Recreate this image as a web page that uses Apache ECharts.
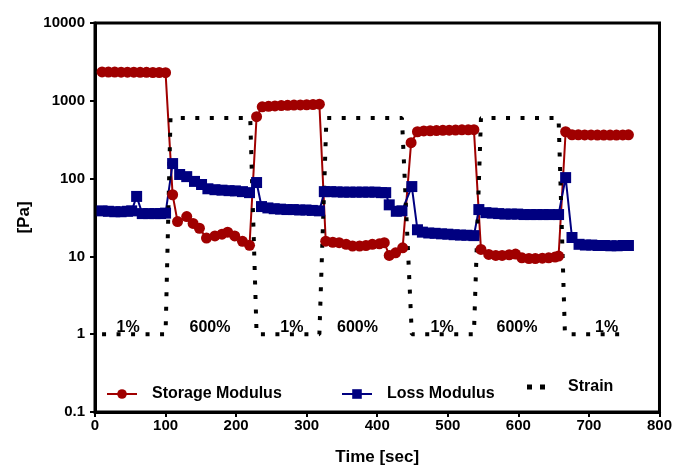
<!DOCTYPE html>
<html>
<head>
<meta charset="utf-8">
<script src="https://cdn.jsdelivr.net/npm/echarts@6/dist/echarts.min.js"></script>
<style>
  html, body { margin: 0; padding: 0; background: #fff; }
  #chart { width: 675px; height: 471px; }
</style>
</head>
<body>
<div id="chart"></div>
<script>
// Storage modulus G' [Pa] vs time [sec]
const storageTime = [10, 19, 28, 37, 46, 55, 64, 73, 82, 91, 100,
  110, 117, 130, 139, 148, 158, 170, 180, 188, 198, 209, 219,
  229, 237, 246, 255, 264, 273, 282, 291, 300, 309, 318,
  327, 337, 346, 356, 365, 375, 384, 393, 403, 410, 417, 426, 436,
  448, 457, 466, 475, 484, 493, 502, 511, 520, 529, 537,
  547, 558, 568, 577, 587, 596, 605, 615, 624, 634, 643, 652, 657,
  667, 676, 685, 694, 703, 712, 721, 730, 739, 748, 756];
const storageValue = [2350, 2340, 2340, 2330, 2330, 2330, 2320, 2320, 2310, 2310, 2300,
  62, 28, 32.5, 26.5, 23, 17.2, 18.3, 19.3, 20.5, 18.3, 15.6, 13.9,
  624, 838, 850, 860, 868, 875, 880, 885, 890, 895, 905,
  15.7, 15.2, 15, 14.3, 13.6, 13.6, 13.8, 14.3, 14.5, 15, 10.3, 11.1, 12.9,
  290, 400, 410, 412, 415, 417, 419, 421, 423, 424, 426,
  12.3, 10.6, 10.3, 10.3, 10.5, 10.7, 9.6, 9.4, 9.4, 9.5, 9.6, 9.8, 10.1,
  400, 366, 365, 364, 364, 363, 363, 363, 363, 364, 365];

// Loss modulus G'' [Pa] vs time [sec]
const lossTime = [10, 19, 28, 37, 46, 52, 59, 67, 76, 85, 93, 100,
  110, 120, 130, 141, 151, 160, 170, 180, 190, 199, 209, 219,
  229, 236, 245, 254, 263, 272, 281, 290, 299, 308, 318,
  325, 334, 343, 352, 361, 370, 379, 388, 397, 406, 412, 417, 427, 435,
  449, 457, 464, 473, 482, 491, 500, 509, 518, 527, 537,
  544, 554, 563, 572, 581, 590, 599, 608, 617, 626, 635, 644, 657,
  667, 676, 686, 695, 704, 713, 722, 731, 740, 749, 756];
const lossValue = [38.5, 38, 37.5, 37.5, 38, 38.5, 59, 35.5, 35.5, 35.5, 35.5, 36,
  156, 113, 106, 92, 84, 74, 72, 71, 70, 69.5, 68, 66,
  89, 43.7, 42, 41, 40.5, 40, 40, 39.5, 39.5, 39, 38.5,
  68, 68, 67.5, 67, 67, 67, 67, 67, 67, 66, 66, 46, 38, 38.5,
  79, 22, 20.5, 20, 19.8, 19.5, 19.3, 19, 18.8, 18.7, 18.5,
  40, 36.5, 36, 35.5, 35, 35, 35, 34.5, 34.5, 34.5, 34.5, 34.5, 34.5,
  103, 17.5, 14.3, 14, 14, 13.8, 13.8, 13.7, 13.7, 13.8, 13.8];

// Applied strain [%]
const strainTime = [10, 100, 107, 220, 229, 318, 328, 435, 449, 537, 547, 657, 666, 753];
const strainValue = [1, 1, 600, 600, 1, 1, 600, 600, 1, 1, 600, 600, 1, 1];

// Strain-level annotations
const annoText = ['1%', '600%', '1%', '600%', '1%', '600%', '1%'];
const annoTime = [47, 163, 279, 372, 492, 598, 725];
const annoLevel = 1.2;

const yTicks = [0.1, 1, 10, 100, 1000, 10000];

const zip = (a, b) => a.map((v, i) => [v, b[i]]);

const FONT = '"Liberation Sans", Arial, sans-serif';
const RED = '#a00000';
const BLUE = '#000080';

const chart = echarts.init(document.getElementById('chart'));

const legendText = { fontFamily: FONT, fontWeight: 'bold', fontSize: 16, color: '#000', padding: [0, 0, 0, 10] };

chart.setOption({
  animation: false,
  grid: {
    left: 95, right: 14, top: 23, bottom: 58,
    show: true, borderColor: '#000', borderWidth: 3
  },
  xAxis: {
    type: 'value', min: 0, max: 800, interval: 100,
    name: 'Time [sec]', nameLocation: 'middle', nameGap: 37,
    nameTextStyle: { fontFamily: FONT, fontWeight: 'bold', fontSize: 17, color: '#000' },
    axisLine: { show: true, lineStyle: { color: '#000', width: 3 } },
    axisTick: { show: true, length: 5, lineStyle: { color: '#000', width: 2 } },
    axisLabel: { fontFamily: FONT, fontWeight: 'bold', fontSize: 15, color: '#000', margin: 6 },
    splitLine: { show: false }
  },
  yAxis: {
    type: 'log', logBase: 10, min: yTicks[0], max: yTicks[yTicks.length - 1],
    name: '[Pa]', nameLocation: 'middle', nameGap: 62,
    nameTextStyle: { fontFamily: FONT, fontWeight: 'bold', fontSize: 17, color: '#000' },
    axisLine: { show: true, lineStyle: { color: '#000', width: 3 } },
    axisTick: { show: true, length: 5, lineStyle: { color: '#000', width: 2 } },
    axisLabel: {
      fontFamily: FONT, fontWeight: 'bold', fontSize: 15, color: '#000', margin: 10,
      formatter: v => String(+(+v).toPrecision(3))
    },
    minorTick: { show: false },
    splitLine: { show: false }
  },
  legend: [
    { data: ['Storage Modulus'], left: 106, top: 386, itemWidth: 30, itemHeight: 12, padding: 0, textStyle: legendText },
    { data: ['Loss Modulus'], left: 341, top: 386, itemWidth: 30, itemHeight: 12, padding: 0, textStyle: legendText },
    {
      data: [{ name: 'Strain', icon: 'path://M0,0h5v5h-5z M13,0h5v5h-5z' }],
      left: 527, top: 379, itemWidth: 18, itemHeight: 5, padding: 0,
      itemStyle: { color: '#000' },
      textStyle: Object.assign({}, legendText, { padding: [0, 0, 0, 18] })
    }
  ],
  series: [
    {
      name: 'Storage Modulus', type: 'line',
      data: zip(storageTime, storageValue),
      symbol: 'circle', symbolSize: 11,
      itemStyle: { color: RED },
      lineStyle: { color: RED, width: 2 }
    },
    {
      name: 'Loss Modulus', type: 'line',
      data: zip(lossTime, lossValue),
      symbol: 'rect', symbolSize: 11,
      itemStyle: { color: BLUE },
      lineStyle: { color: BLUE, width: 2 }
    },
    {
      name: 'Strain', type: 'line',
      data: zip(strainTime, strainValue),
      symbol: 'none',
      itemStyle: { color: '#000' },
      lineStyle: { color: '#000', width: 4, type: [4, 10.5], cap: 'butt' }
    },
    {
      name: 'labels', type: 'scatter',
      data: annoTime.map(t => [t, annoLevel]),
      symbolSize: 0,
      silent: true,
      itemStyle: { opacity: 1 },
      label: {
        show: true, position: 'inside',
        formatter: p => annoText[p.dataIndex],
        fontFamily: FONT, fontWeight: 'bold', fontSize: 16, color: '#000'
      }
    }
  ]
});
</script>
</body>
</html>
